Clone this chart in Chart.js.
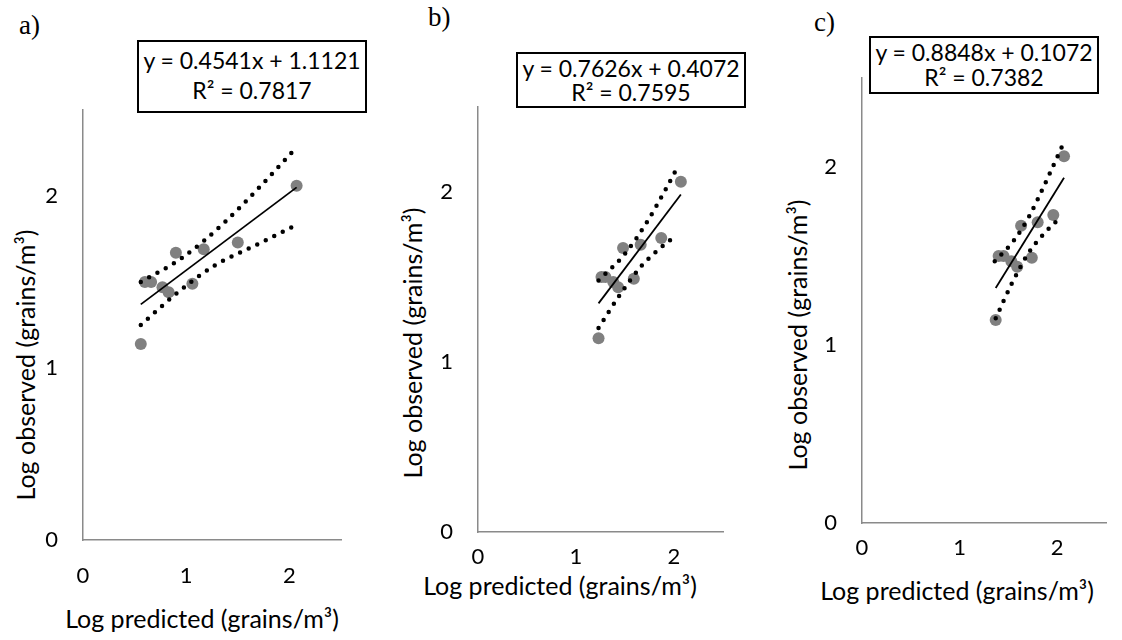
<!DOCTYPE html>
<html>
<head>
<meta charset="utf-8">
<script src="https://cdn.jsdelivr.net/npm/chart.js@4.4.0/dist/chart.umd.min.js"></script>
<style>
  body { margin: 0; width: 1122px; height: 640px; overflow: hidden; position: relative; background: #fff; font-family: Lato, "Open Sans", sans-serif; color: #000; }
  .box { position: absolute; }
  .tag { position: absolute; font-family: "Liberation Serif", serif; font-size: 27px; line-height: 1; }
  .eq { position: absolute; border: 2px solid #000; background: #fff; box-sizing: border-box; text-align: center; font-size: 23px; line-height: 30px; padding-top: 3px; z-index: 2; }
  .ttl { position: absolute; font-size: 25px; white-space: nowrap; line-height: 1; }
  .ttl.v { transform: translate(-50%, -50%) rotate(-90deg); }
  .ttl.h { transform: translate(-50%, -50%); }
</style>
</head>
<body>

<div class="tag" style="left:19px;top:12px">a)</div>
<div class="tag" style="left:428px;top:4px">b)</div>
<div class="tag" style="left:814px;top:9px">c)</div>

<div class="eq" style="left:137px;top:40px;width:230px;height:73px">y = 0.4541x + 1.1121<br>R² = 0.7817</div>
<div class="eq" style="left:516px;top:52px;width:230px;height:56px;line-height:24px;padding-top:2px">y = 0.7626x + 0.4072<br>R² = 0.7595</div>
<div class="eq" style="left:869px;top:36px;width:230px;height:58px;line-height:25px;padding-top:2px">y = 0.8848x + 0.1072<br>R² = 0.7382</div>

<div class="ttl v" style="left:25px;top:365px">Log observed (grains/m³)</div>
<div class="ttl v" style="left:412px;top:343px">Log observed (grains/m³)</div>
<div class="ttl v" style="left:797px;top:335px">Log observed (grains/m³)</div>
<div class="ttl h" style="left:202px;top:618px">Log predicted (grains/m³)</div>
<div class="ttl h" style="left:560px;top:585px">Log predicted (grains/m³)</div>
<div class="ttl h" style="left:957px;top:590px">Log predicted (grains/m³)</div>

<div class="box" id="boxA"><canvas id="chartA"></canvas></div>
<div class="box" id="boxB"><canvas id="chartB"></canvas></div>
<div class="box" id="boxC"><canvas id="chartC"></canvas></div>

<script>
// observed values (same in every panel)
const observed = [1.14, 1.50, 1.50, 1.47, 1.44, 1.67, 1.49, 1.69, 1.73, 2.06];

// predicted values, one list per model
const predA = [0.56, 0.60, 0.66, 0.77, 0.83, 0.90, 1.06, 1.17, 1.50, 2.07];
const predB = [1.23, 1.26, 1.30, 1.38, 1.43, 1.48, 1.59, 1.66, 1.87, 2.07];
const predC = [1.37, 1.40, 1.45, 1.53, 1.59, 1.63, 1.74, 1.80, 1.96, 2.07];

// linear trend lines (ends)
const trendAx = [0.56, 2.07], trendAy = [1.37, 2.05];
const trendBx = [1.23, 2.07], trendBy = [1.345, 1.985];
const trendCx = [1.37, 2.07], trendCy = [1.32, 1.94];

// dotted confidence bands
const upAx = [0.56, 0.96, 1.36, 1.74, 2.05], upAy = [1.50, 1.64, 1.84, 2.07, 2.27];
const loAx = [0.56, 0.90, 1.26, 1.66, 2.06], loAy = [1.25, 1.43, 1.59, 1.71, 1.83];
const upBx = [1.23, 1.49, 1.71, 1.90, 2.03], upBy = [1.48, 1.63, 1.81, 2.00, 2.14];
const loBx = [1.23, 1.43, 1.66, 1.86, 2.01], loBy = [1.20, 1.38, 1.56, 1.67, 1.74];
const upCx = [1.36, 1.56, 1.71, 1.87, 2.07], upCy = [1.47, 1.59, 1.72, 1.90, 2.14];
const loCx = [1.37, 1.53, 1.71, 1.89, 2.02], loCy = [1.15, 1.34, 1.52, 1.64, 1.71];

// axis ticks
const tickValues = [0, 1, 2];
const axisMax = 2.5;

const pts = (xs, ys) => xs.map((x, i) => ({ x: x, y: ys[i] }));

function drawPanel(id, boxId, lay, pred, tx, ty, ux, uy, lx, ly) {
  // lay: page position of the plot area and tick label offsets
  const yW = 70, xH = 50, padTop = 10, padRight = 14;
  const box = document.getElementById(boxId);
  const left = lay.L - yW, top = lay.T - padTop;
  box.style.left = left + 'px';
  box.style.top = top + 'px';
  box.style.width = (lay.R + padRight - left) + 'px';
  box.style.height = (lay.B + xH - top) + 'px';

  const dotted = { borderColor: '#000', borderWidth: 4.5, borderDash: [0, 9.5], borderCapStyle: 'round',
    pointRadius: 0, showLine: true, fill: false, cubicInterpolationMode: 'monotone', order: 1 };

  new Chart(document.getElementById(id), {
    type: 'scatter',
    data: {
      datasets: [
        { data: pts(pred, observed), backgroundColor: '#808080', borderWidth: 0, pointRadius: 6, order: 3 },
        { data: pts(tx, ty), borderColor: '#000', borderWidth: 1.8, pointRadius: 0, showLine: true, order: 2 },
        Object.assign({ data: pts(ux, uy) }, dotted),
        Object.assign({ data: pts(lx, ly) }, dotted)
      ]
    },
    options: {
      responsive: true,
      maintainAspectRatio: false,
      animation: false,
      layout: { padding: { top: padTop, right: padRight, left: 0, bottom: 0 } },
      plugins: { legend: { display: false }, tooltip: { enabled: false } },
      scales: {
        x: {
          type: 'linear', min: 0, max: axisMax,
          afterFit: s => { s.height = xH; s.paddingLeft = 0; s.paddingRight = 0; },
          afterBuildTicks: s => { s.ticks = tickValues.map(v => ({ value: v })); },
          grid: { display: false, drawTicks: false },
          border: { display: true, color: '#8a8a8a', width: 1.5 },
          ticks: { padding: lay.xPad, color: '#000', font: { family: 'Lato', size: 22 } }
        },
        y: {
          type: 'linear', min: 0, max: axisMax,
          afterFit: s => { s.width = yW; s.paddingTop = 0; s.paddingBottom = 0; },
          afterBuildTicks: s => { s.ticks = tickValues.map(v => ({ value: v })); },
          grid: { display: false, drawTicks: false },
          border: { display: true, color: '#8a8a8a', width: 1.5 },
          ticks: { padding: 25, color: '#000', font: { family: 'Lato', size: 22 } }
        }
      }
    }
  });
}

drawPanel('chartA', 'boxA', { L: 83, R: 341, T: 110, B: 540, xPad: 23 }, predA, trendAx, trendAy, upAx, upAy, loAx, loAy);
drawPanel('chartB', 'boxB', { L: 478, R: 723, T: 107, B: 532, xPad: 12 }, predB, trendBx, trendBy, upBx, upBy, loBx, loBy);
drawPanel('chartC', 'boxC', { L: 862, R: 1106, T: 78, B: 523, xPad: 12 }, predC, trendCx, trendCy, upCx, upCy, loCx, loCy);
</script>
</body>
</html>
